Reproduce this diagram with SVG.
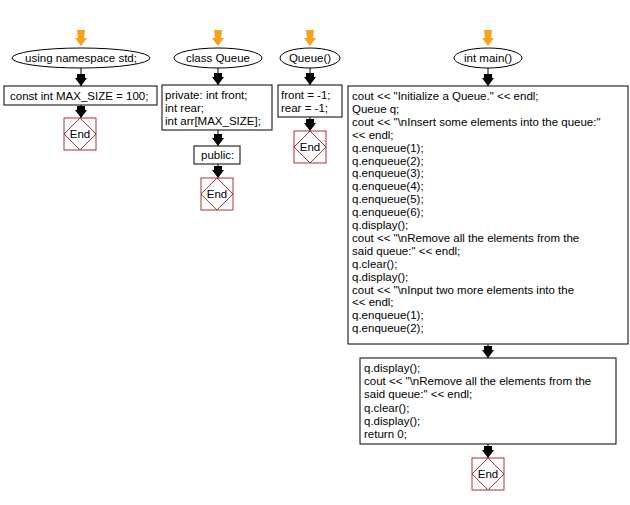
<svg xmlns="http://www.w3.org/2000/svg" width="630" height="505" viewBox="0 0 630 505">
<style>
text{font-family:"Liberation Sans",Arial,sans-serif;font-size:11.5px;fill:#000}
.n{fill:#fff;stroke:#000;stroke-width:1}
.e{fill:#fff;stroke:#a33;stroke-width:1}
.c{stroke:#000;stroke-width:1;fill:none}
.o{fill:#f9a01b}
.a{fill:#000}
</style>
<rect width="630" height="505" fill="#fff"/>
<g id="connectors">
<path class="o" d="M77,30h8l-1,8h3l-6,8l-6,-8h3z"/>
<path class="o" d="M214,30h8l-1,8h3l-6,8l-6,-8h3z"/>
<path class="o" d="M306,30h8l-1,8h3l-6,8l-6,-8h3z"/>
<path class="o" d="M484,30h8l-1,8h3l-6,8l-6,-8h3z"/>
<path class="c" d="M81,68V86M81,105V118M218,68V85M218,130V146M218,164V178M310,68V85M310,117V131M488,68V86M488,344V358M488,444V458"/>
<path class="a" d="M77,74h8v4h2l-6,8l-6,-8h2z M77,106h8v4h2l-6,8l-6,-8h2z"/>
<path class="a" d="M214,73h8v4h2l-6,8l-6,-8h2z M214,134h8v4h2l-6,8l-6,-8h2z M214,166h8v4h2l-6,8l-6,-8h2z"/>
<path class="a" d="M306,73h8v4h2l-6,8l-6,-8h2z M306,119h8v4h2l-6,8l-6,-8h2z"/>
<path class="a" d="M484,74h8v4h2l-6,8l-6,-8h2z M484,346h8v4h2l-6,8l-6,-8h2z M484,446h8v4h2l-6,8l-6,-8h2z"/>
</g>
<g id="n1"><ellipse class="n" cx="81" cy="58" rx="69" ry="10"/><text x="81" y="62" text-anchor="middle">using namespace std;</text></g>
<g id="n2"><rect class="n" x="4" y="86" width="153" height="19"/><text x="10" y="100">const int MAX_SIZE = 100;</text></g>
<g id="n3"><rect class="e" x="64" y="118" width="32" height="32"/><path class="e" d="M80,118L96,134L80,150L64,134Z"/><text x="80" y="138" text-anchor="middle">End</text></g>
<g id="n4"><ellipse class="n" cx="218" cy="58" rx="44" ry="10"/><text x="218" y="62" text-anchor="middle">class Queue</text></g>
<g id="n5"><rect class="n" x="162" y="85" width="110" height="45"/><text x="165" y="99">private: int front;</text><text x="165" y="112">int rear;</text><text x="165" y="125">int arr[MAX_SIZE];</text></g>
<g id="n6"><rect class="n" x="194" y="146" width="46" height="18"/><text x="201" y="159">public:</text></g>
<g id="n7"><rect class="e" x="201" y="178" width="32" height="32"/><path class="e" d="M217,178L233,194L217,210L201,194Z"/><text x="217" y="198" text-anchor="middle">End</text></g>
<g id="n8"><ellipse class="n" cx="310" cy="58" rx="30" ry="10"/><text x="310" y="62" text-anchor="middle">Queue()</text></g>
<g id="n9"><rect class="n" x="278" y="85" width="64" height="32"/><text x="281" y="99">front = -1;</text><text x="281" y="112">rear = -1;</text></g>
<g id="n10"><rect class="e" x="294" y="131" width="32" height="32"/><path class="e" d="M310,131L326,147L310,163L294,147Z"/><text x="310" y="151" text-anchor="middle">End</text></g>
<g id="n11"><ellipse class="n" cx="488" cy="58" rx="34" ry="10"/><text x="488" y="62" text-anchor="middle">int main()</text></g>
<g id="n12"><rect class="n" x="348" y="86" width="280" height="258"/>
<text x="352" y="100">cout &lt;&lt; "Initialize a Queue." &lt;&lt; endl;</text>
<text x="352" y="112.9">Queue q;</text>
<text x="352" y="125.8">cout &lt;&lt; "\nInsert some elements into the queue:"</text>
<text x="352" y="138.7">&lt;&lt; endl;</text>
<text x="352" y="151.6">q.enqueue(1);</text>
<text x="352" y="164.5">q.enqueue(2);</text>
<text x="352" y="177.4">q.enqueue(3);</text>
<text x="352" y="190.3">q.enqueue(4);</text>
<text x="352" y="203.2">q.enqueue(5);</text>
<text x="352" y="216.1">q.enqueue(6);</text>
<text x="352" y="229">q.display();</text>
<text x="352" y="241.9">cout &lt;&lt; "\nRemove all the elements from the</text>
<text x="352" y="254.8">said queue:" &lt;&lt; endl;</text>
<text x="352" y="267.7">q.clear();</text>
<text x="352" y="280.6">q.display();</text>
<text x="352" y="293.5">cout &lt;&lt; "\nInput two more elements into the</text>
<text x="352" y="306.4">&lt;&lt; endl;</text>
<text x="352" y="319.3">q.enqueue(1);</text>
<text x="352" y="332.2">q.enqueue(2);</text>
</g>
<g id="n13"><rect class="n" x="360" y="358" width="256" height="86"/>
<text x="364" y="372">q.display();</text>
<text x="364" y="385.2">cout &lt;&lt; "\nRemove all the elements from the</text>
<text x="364" y="398.4">said queue:" &lt;&lt; endl;</text>
<text x="364" y="411.6">q.clear();</text>
<text x="364" y="424.8">q.display();</text>
<text x="364" y="438">return 0;</text>
</g>
<g id="n14"><rect class="e" x="472" y="458" width="32" height="32"/><path class="e" d="M488,458L504,474L488,490L472,474Z"/><text x="488" y="478" text-anchor="middle">End</text></g>
</svg>
